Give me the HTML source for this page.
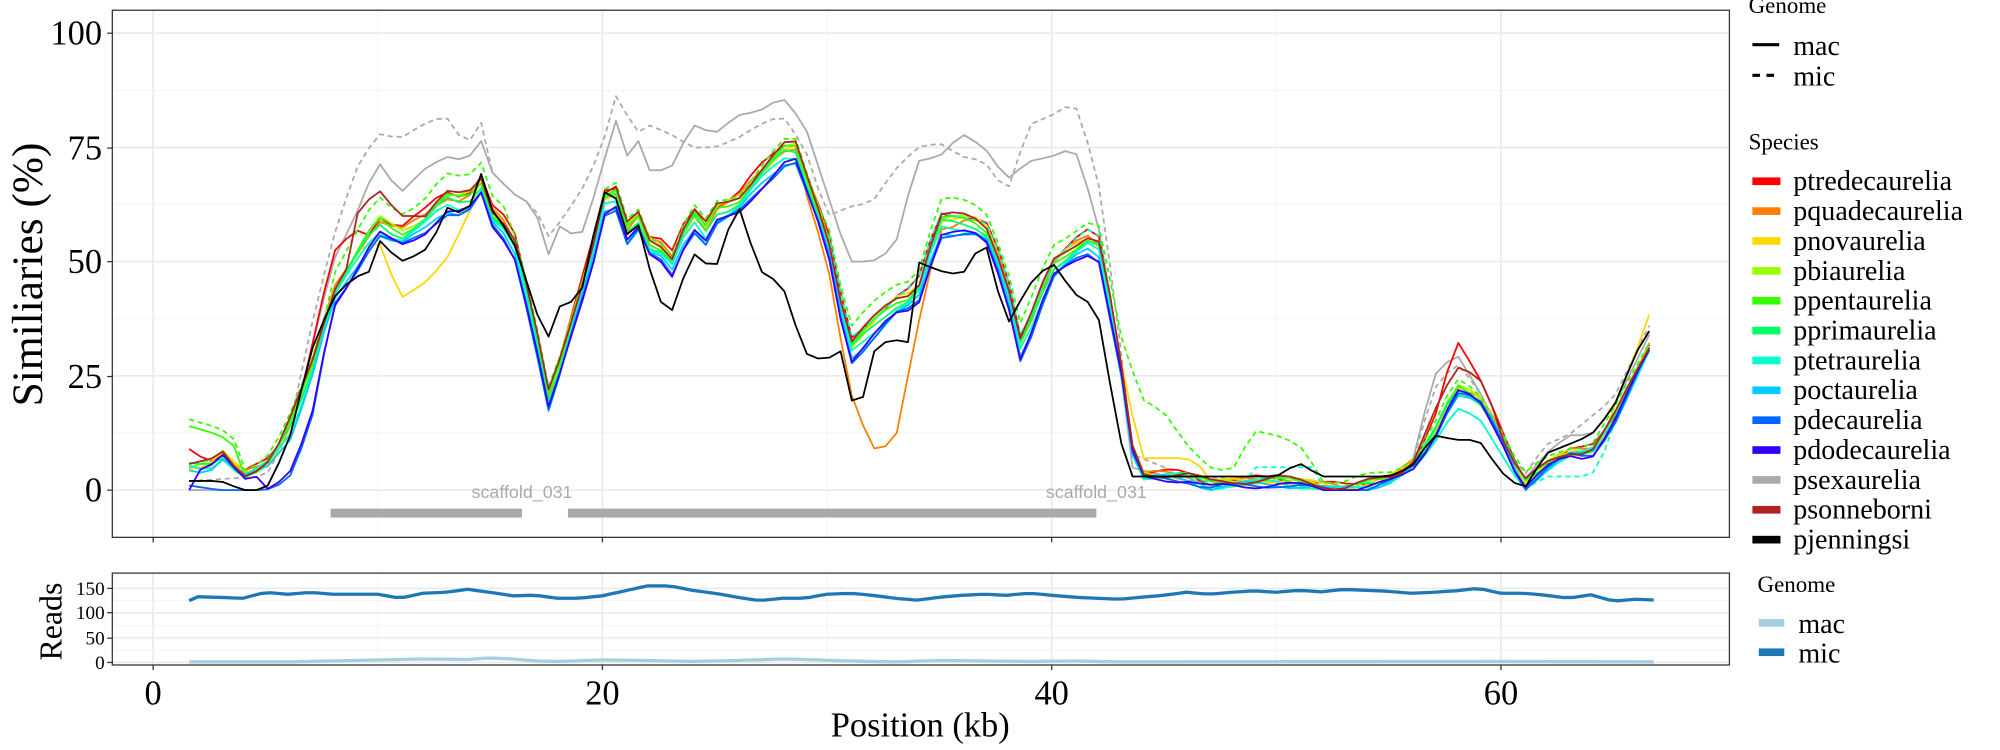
<!DOCTYPE html>
<html><head><meta charset="utf-8">
<style>html,body{margin:0;padding:0;background:#fff;}svg{display:block;font-family:"Liberation Serif",serif;}</style>
</head><body>
<svg id="s" width="2000" height="750" viewBox="0 0 1567 587.6" xmlns="http://www.w3.org/2000/svg">
<rect width="1567" height="588" fill="#fff"/>
<g id="grid"></g>
<g id="bars">
<rect x="259" y="398.5" width="150" height="7" fill="#aaa"/>
<rect x="445" y="398.5" width="414" height="7" fill="#aaa"/>
<text x="409" y="390" font-family="Liberation Sans,sans-serif" font-size="14" fill="#aaa" text-anchor="middle">scaffold_031</text>
<text x="859" y="390" font-family="Liberation Sans,sans-serif" font-size="14" fill="#aaa" text-anchor="middle">scaffold_031</text>
</g>
<g id="lines" fill="none" stroke-width="1.4" stroke-linejoin="round"></g>
<g id="reads" fill="none" stroke-width="2.6"></g>
<rect x="88" y="8" width="1267" height="413" fill="none" stroke="#333" stroke-width="1"/>
<rect x="88" y="449" width="1267" height="72" fill="none" stroke="#333" stroke-width="1"/>
<g font-size="27" fill="#000" text-anchor="end">
<text x="80" y="35">100</text><text x="80" y="125">75</text><text x="80" y="214">50</text><text x="80" y="304">25</text><text x="80" y="393">0</text>
</g>
<g font-size="15" fill="#000" text-anchor="end">
<text x="82" y="466">150</text><text x="82" y="485">100</text><text x="82" y="505">50</text><text x="82" y="524">0</text>
</g>
<g stroke="#333"><line x1="84" x2="88" y1="26" y2="26"/><line x1="84" x2="88" y1="116" y2="116"/><line x1="84" x2="88" y1="205" y2="205"/><line x1="84" x2="88" y1="295" y2="295"/><line x1="84" x2="88" y1="384" y2="384"/>
<line x1="84" x2="88" y1="461" y2="461"/><line x1="84" x2="88" y1="480" y2="480"/><line x1="84" x2="88" y1="500" y2="500"/><line x1="84" x2="88" y1="519" y2="519"/>
<line x1="120" x2="120" y1="421" y2="425"/><line x1="472" x2="472" y1="421" y2="425"/><line x1="824" x2="824" y1="421" y2="425"/><line x1="1176" x2="1176" y1="421" y2="425"/>
<line x1="120" x2="120" y1="521" y2="525"/><line x1="472" x2="472" y1="521" y2="525"/><line x1="824" x2="824" y1="521" y2="525"/><line x1="1176" x2="1176" y1="521" y2="525"/></g>
<g font-size="27" text-anchor="middle"><text x="120" y="552">0</text><text x="472" y="552">20</text><text x="824" y="552">40</text><text x="1176" y="552">60</text></g>
<text x="721" y="577" font-size="27" text-anchor="middle">Position (kb)</text>
<text transform="translate(33,215) rotate(-90)" font-size="34" text-anchor="middle">Similiaries (%)</text>
<text transform="translate(48,487) rotate(-90)" font-size="25" text-anchor="middle">Reads</text>
<g font-size="18"><text x="1370" y="10">Genome</text><text x="1370" y="117">Species</text><text x="1377" y="464">Genome</text></g>
<g font-size="22" id="leg">
<line x1="1373" x2="1394" y1="35" y2="35" stroke="#000" stroke-width="2.5"/><text x="1405" y="43">mac</text>
<line x1="1373" x2="1394" y1="59" y2="59" stroke="#000" stroke-width="2.5" stroke-dasharray="6,5"/><text x="1405" y="67">mic</text>
<rect x="1378" y="485" width="20" height="6" fill="#a6cee3"/><text x="1409" y="496">mac</text>
<rect x="1378" y="508" width="20" height="6" fill="#1f78b4"/><text x="1409" y="519">mic</text>
</g>
</svg>
<script>
const NS="http://www.w3.org/2000/svg";
const X=k=>120+17.6*k, Y=v=>384-3.58*v, YR=r=>519-0.387*r;
function el(p,t,a){const e=document.createElementNS(NS,t);for(const k in a)e.setAttribute(k,a[k]);p.appendChild(e);return e;}
const g=document.getElementById('grid');
[12.5,37.5,62.5,87.5].forEach(v=>el(g,'line',{x1:88,x2:1355,y1:Y(v),y2:Y(v),stroke:'#f2f2f2','stroke-width':0.7}));
[0,25,50,75,100].forEach(v=>el(g,'line',{x1:88,x2:1355,y1:Y(v),y2:Y(v),stroke:'#ebebeb','stroke-width':1.4}));
[10,30,50].forEach(k=>{el(g,'line',{x1:X(k),x2:X(k),y1:8,y2:421,stroke:'#f2f2f2','stroke-width':0.7});el(g,'line',{x1:X(k),x2:X(k),y1:449,y2:521,stroke:'#f2f2f2','stroke-width':0.7});});
[0,20,40,60].forEach(k=>{el(g,'line',{x1:X(k),x2:X(k),y1:8,y2:421,stroke:'#ebebeb','stroke-width':1.4});el(g,'line',{x1:X(k),x2:X(k),y1:449,y2:521,stroke:'#ebebeb','stroke-width':1.4});});
[25,75,125].forEach(r=>el(g,'line',{x1:88,x2:1355,y1:YR(r),y2:YR(r),stroke:'#f2f2f2','stroke-width':0.7}));
[0,50,100,150].forEach(r=>el(g,'line',{x1:88,x2:1355,y1:YR(r),y2:YR(r),stroke:'#ebebeb','stroke-width':1.4}));

function parse(s){return s.trim().split(/\s+/).map(p=>p.split(':').map(Number));}
function interp(pts,k){if(k<=pts[0][0])return pts[0][1];for(let i=1;i<pts.length;i++){if(k<=pts[i][0]){const a=pts[i-1],b=pts[i];return a[1]+(b[1]-a[1])*(k-a[0])/(b[0]-a[0]);}}return pts[pts.length-1][1];}
function segs(s){if(!s)return[];const p=parse(s);const out=[[p[0]]];for(let i=1;i<p.length;i++){if(p[i][0]-p[i-1][0]>3)out.push([p[i]]);else out[out.length-1].push(p[i]);}return out;}
const base=parse("1.6:5 2.5:5 3:8 4:3 5:5 6:12 7:25 8:42 9:50 10:58 11:55 12:58 13:63 14:62 14.5:68 15:60 16:55 17:35 17.5:18 18:25 19:42 19.5:50 20:62 20.5:66 21:55 21.5:60 22:53 22.5:53 23:48 24:60 24.5:55 25:60 26:62 27:68 28:73 28.5:75 29:68 30:55 31:30 32:35 33:40 34:42 35:58 36:58 37:57 38:45 38.5:30 39:35 40:48 41:52 42:55 43:30 43.5:10 44:3 46:3 47:1 50:2 53:0 55:2 56:5 57:12 58:22 59:20 60:12 61:1 62:5 63:8 64:8 65:15 66:25 67:35");
const black=parse("1.6:2 3:2 4:0 5:0 6:10 7:30 8:42 9:47 9.5:46 10:55 11:50 12:52 12.5:55 13:62 14:60 14.5:71 15:62 16:55 17:40 17.5:32 18:40 19:42 20:65 20.5:66 21:55 21.5:60 22:50 22.5:42 23:38 24:52 25:48 26:63 27:48 28:45 29:30 30:28 30.5:33 31:20 31.5:18 32:30 33:34 33.5:28 34:50 35:48 36:47 37:55 38:36 39:45 40:50 41:43 42:40 43:12 43.5:3 50:3 51:6 52:3 55:3 56:5 57:12 58:11 59:11 60:4 61:0 62:8 63:10 64:12 65:18 66:30 67:38");
const greyS=parse("1.6:0 5:0 6:10 7:30 8:50 9:60 10:72 11:65 12:70 13:73 14:72 14.5:78 15:70 16:65 17:62 17.5:50 18:58 19:55 20:70 20.5:83 21:72 21.5:78 22:70 23:70 24:80 25:78 26:82 27:83 28:86 29:80 30:65 31:50 32:50 33:53 34:72 35:73 36:78 37:75 38:68 39:72 40:73 41:75 42:60 43:30 43.5:5 46:2 50:2 53:0 55:2 56:5 57:25 58:30 59:22 60:12 61:2 62:8 63:12 64:12 65:18 66:28 67:38");
const greyD=parse("1.6:2 5:3 6:12 7:35 8:55 9:70 10:78 11:77 12:80 13:82 14:75 14.5:83 15:70 16:65 17:62 17.5:55 18:58 19:65 20:75 20.5:87 21:83 21.5:78 22:80 23:78 24:75 25:75 26:77 27:80 28:82 29:75 30:60 31:62 32:63 33:70 34:75 35:76 36:73 37:72 38:65 39:80 40:82 41:85 42:70 43:35 43.5:8 46:3 50:2 53:0 55:2 56:5 57:22 58:28 59:22 60:12 61:3 62:10 63:12 64:16 65:20 66:30 67:40");
const sp=[["#ff0000",2.5,"1.6:9 2.5:6 3:8 7:30 8:52 9:57 10:55 56:5 57:15 58:33 59:25 60:14"],["#ff7f00",1.5,"29:66 30:50 31:22 32:9 33:10 34:35 35:57 36:58"],["#ffd700",1.5,"9:52 10:55 11:42 12:45 13:50 14:60 14.5:66 43:30 44:7 46:7 47:4 65:18 66:30 67:44"],["#99ff00",1.5,""],["#33ff00",1.2,"1.6:14 3:12 4:8"],["#00ff66",0.5,""],["#00ffcc",-0.5,"56:4 57:10 58:18 59:16 60:8 61:0 62:5"],["#00ccff",-1.5,""],["#0066ff",-2,"1.6:1 3:0 5:0 6:2 7:14 8:40"],["#3300ff",-1.8,"1.6:0 5:0 6:3 7:15 8:40"],["#b22222",2,"9:60 10:66 11:60 12:60 56:5 57:17 58:27 59:25 60:14"]];
const L=document.getElementById('lines');
function draw(fn,col,dash,w){let d="";for(let k=1.6;k<=67.01;k+=0.5){d+=(d?"L":"M")+X(k).toFixed(1)+","+Y(Math.max(0,fn(k))).toFixed(1);}const a={d:d,stroke:col,'stroke-width':w||1.4};if(dash)a['stroke-dasharray']='4,3';el(L,'path',a);}
draw(k=>interp(greyD,k),"#aaa",1);
draw(k=>interp(greyS,k),"#aaa",0);
sp.forEach((s,i)=>{const ov=segs(s[2]);const fn=k=>{let v=interp(base,k)+s[1]*(k>6&&k<43?1:0.3)+Math.sin(k*1.7+i)*0.8;for(const sg of ov){if(k>=sg[0][0]&&k<=sg[sg.length-1][0])v=interp(sg,k);}return v;};
 if(i==4)draw(k=>{let v=fn(k)+(k>30&&k<43?4:1.5);if(k>=43&&k<=52)v=interp(parse("43:35 44:20 45:17 46:10 47:5 48:4 49:13 50:12 51:10 52:3"),k);if(k>=8&&k<16)v+=3;return v;},s[0],1);
 if(i==6)draw(k=>{let v=fn(k)+(k>30&&k<43?3:0);if(k>=61&&k<=65)v=interp(parse("61:0 62:3 63:3 64:3 65:12"),k);if(k>=49&&k<=52)v=5;return v;},s[0],1);
 draw(fn,s[0],0);});
draw(k=>interp(black,k),"#000",0);
const R=document.getElementById('reads');
const mic=parse("1.6:125 2:133 4:130 5:142 6:138 7:142 8:138 10:138 11:130 12:140 13:142 14:148 15:142 16:135 17:136 18:130 19:130 20:135 21:145 22:155 23:155 24:146 25:140 26:132 27:125 28:130 29:130 30:138 31:140 32:136 33:130 34:126 35:132 36:136 37:138 38:136 39:140 40:136 41:132 42:130 43:128 44:132 45:136 46:142 47:138 48:142 49:145 50:142 51:146 52:143 53:148 54:146 55:144 56:140 57:142 58:145 59:150 60:140 61:140 62:136 63:130 64:137 65:124 66:128 67:126");
const mac=parse("1.6:1 6:1 8:3 10:5 12:7 14:6 15:9 16:7 17:3 18:2 20:5 22:4 24:2 26:4 28:7 29:6 31:3 33:1 35:4 37:3 39:2 41:3 43:1 60:2 67:1");
function rd(pts,col){let d="";for(let k=1.6;k<=67.01;k+=0.4){d+=(d?"L":"M")+X(k).toFixed(1)+","+YR(interp(pts,k)).toFixed(1);}el(R,'path',{d:d,stroke:col});}
rd(mac,"#a6cee3");rd(mic,"#1f78b4");
const names=["ptredecaurelia","pquadecaurelia","pnovaurelia","pbiaurelia","ppentaurelia","pprimaurelia","ptetraurelia","poctaurelia","pdecaurelia","pdodecaurelia","psexaurelia","psonneborni","pjenningsi"];
const cols=["#ff0000","#ff7f00","#ffd700","#99ff00","#33ff00","#00ff66","#00ffcc","#00ccff","#0066ff","#3300ff","#aaaaaa","#b22222","#000000"];
const lg=document.getElementById('leg');
names.forEach((n,i)=>{const y=142+i*23.4;el(lg,'rect',{x:1373,y:y-3,width:22,height:6,fill:cols[i]});const t=el(lg,'text',{x:1405,y:y+7});t.textContent=n;});
</script>
</body></html>
